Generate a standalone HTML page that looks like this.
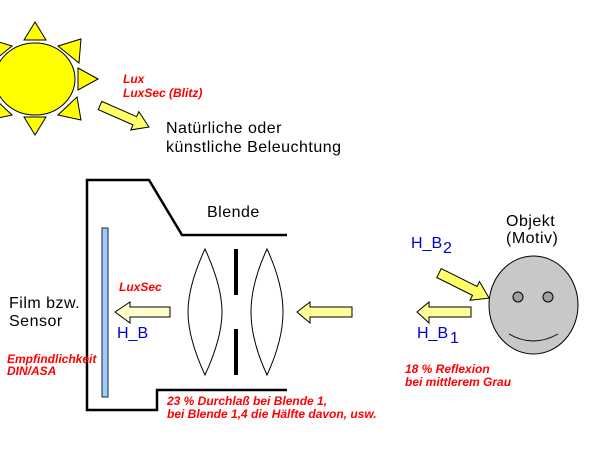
<!DOCTYPE html>
<html><head><meta charset="utf-8"><style>
html,body{margin:0;padding:0;background:#fff;}
svg{display:block;}
.b{font-family:"Liberation Sans",Arial,sans-serif;font-size:16px;letter-spacing:0.5px;fill:#000;}
.r{font-family:"Liberation Sans",Arial,sans-serif;font-size:12px;font-weight:bold;font-style:italic;fill:#ff0000;}
.bl{font-family:"Liberation Sans",Arial,sans-serif;font-size:16px;fill:#0000d0;}
</style></head><body>
<svg width="600" height="450" viewBox="0 0 600 450" xmlns="http://www.w3.org/2000/svg">
<rect width="600" height="450" fill="#fff"/>
<!-- Sun -->
<g fill="#ffff00" stroke="#000" stroke-width="1">
<polygon points="35,22 24,40 46,40"/>
<polygon points="35,135 24,117 46,117"/>
<polygon points="98,79 78,68 78,90"/>
<polygon points="58,46 81,39 79,63"/>
<polygon points="58,115 81,120 77,97"/>
<polygon points="12,46 -11,39 -9,63"/>
<polygon points="12,115 -11,120 -7,97"/>
<ellipse cx="35" cy="79" rx="40" ry="36"/>
</g>
<!-- Sun arrow -->
<g transform="translate(100,105.5) rotate(23.7)">
<polygon points="0,-4.5 38,-4.5 38,-10 53.5,0 38,10 38,4.5 0,4.5" fill="#ffff66" stroke="#000" stroke-width="1"/>
</g>
<text class="r" x="123" y="83">Lux</text>
<text class="r" x="123" y="97">LuxSec (Blitz)</text>
<text class="b" x="166" y="133">Natürliche oder</text>
<text class="b" x="166" y="152">künstliche Beleuchtung</text>

<!-- Camera body -->
<path d="M287,235 L182,235 L149,180 L87,180 L87,410 L157,410 L157,390 L287,390" fill="none" stroke="#000" stroke-width="2.5"/>
<rect x="102" y="228" width="6" height="169" fill="#99ccff" stroke="#223" stroke-width="1"/>
<text class="b" x="207" y="217">Blende</text>

<!-- Lenses -->
<path d="M205,249 C193,275 188,295 188,312 C188,329 193,349 205,375 C217,349 222,329 222,312 C222,295 217,275 205,249 Z" fill="none" stroke="#000" stroke-width="1"/>
<path d="M267,249 C255,275 251,295 251,312 C251,329 255,349 267,375 C279,349 283,329 283,312 C283,295 279,275 267,249 Z" fill="none" stroke="#000" stroke-width="1"/>
<rect x="234" y="249" width="4" height="46" fill="#000"/>
<rect x="234" y="329" width="4" height="46" fill="#000"/>

<!-- Arrows horizontal -->
<polygon points="115,312 130,302 130,307 170,307 170,317 130,317 130,323" fill="#ffffcc" stroke="#000" stroke-width="1"/>
<polygon points="297,312 310,302 310,307 352,307 352,317 310,317 310,323" fill="#ffff99" stroke="#000" stroke-width="1"/>
<polygon points="417,312 429,302 429,307 471,307 471,317 429,317 429,323" fill="#ffff99" stroke="#000" stroke-width="1"/>

<!-- Diagonal arrow into face -->
<g transform="translate(439,273) rotate(26.6)">
<polygon points="0,-5 40,-5 40,-10.5 56,0 40,10.5 40,5 0,5" fill="#ffff66" stroke="#000" stroke-width="1"/>
</g>

<text class="r" x="119" y="291">LuxSec</text>
<text class="bl" x="117" y="338">H_B</text>

<text class="b" x="9" y="308">Film bzw.</text>
<text class="b" x="9" y="326">Sensor</text>
<text class="r" x="7" y="363">Empfindlichkeit</text>
<text class="r" x="7" y="375">DIN/ASA</text>

<text class="r" x="167" y="405">23 % Durchlaß bei Blende 1,</text>
<text class="r" x="167" y="418">bei Blende 1,4 die Hälfte davon, usw.</text>

<!-- Face -->
<ellipse cx="533.5" cy="305" rx="44.5" ry="49" fill="#c8c8c8" stroke="#000" stroke-width="1"/>
<circle cx="518" cy="297" r="5" fill="#a0a0a0" stroke="#000" stroke-width="1"/>
<circle cx="548" cy="297" r="5" fill="#a0a0a0" stroke="#000" stroke-width="1"/>
<path d="M509,334 Q533,348 558,334" fill="none" stroke="#000" stroke-width="1"/>

<text class="b" x="506" y="226">Objekt</text>
<text class="b" x="506" y="243">(Motiv)</text>

<text class="bl" x="411" y="248">H_B</text>
<text class="bl" x="443" y="253">2</text>
<text class="bl" x="417" y="338">H_B</text>
<text class="bl" x="450" y="343">1</text>

<text class="r" x="405" y="373">18 % Reflexion</text>
<text class="r" x="405" y="386">bei mittlerem Grau</text>
</svg>
</body></html>
